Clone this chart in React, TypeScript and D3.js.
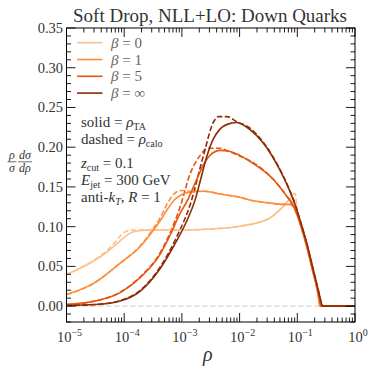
import React, { useRef, useEffect } from "react";
import * as d3 from "d3";

const title = "Soft Drop, NLL+LO: Down Quarks";
const betaLabels = ["0", "1", "5", "∞"];
const betaColors = ["#fdc08b", "#fd8d3c", "#e6550d", "#8c2d04"];

const xTickExps = [-5, -4, -3, -2, -1, 0];
const yTickValues = [0, 0.05, 0.1, 0.15, 0.2, 0.25, 0.3, 0.35];
const yTickLabels = ["0.00", "0.05", "0.10", "0.15", "0.20", "0.25", "0.30", "0.35"];

// points are [log10(rho), value]
const beta0Solid = [
  [-5, 0.04], [-4.75, 0.048], [-4.5, 0.058], [-4.3, 0.068], [-4.15, 0.077], [-4.0, 0.0865],
  [-3.9, 0.0915], [-3.8, 0.0942], [-3.6, 0.0956], [-3.0, 0.0958], [-2.5, 0.097], [-2.0, 0.1005],
  [-1.5, 0.11], [-1.25, 0.125], [-1.12, 0.134], [-1.08, 0.131], [-1.0, 0.114], [-0.952, 0.103],
  [-0.836, 0.074], [-0.721, 0.04], [-0.663, 0.023], [-0.63, 0.01], [-0.61, 0], [0, 0],
];
const beta0Dashed = [
  [-5, 0.04], [-4.75, 0.0485], [-4.5, 0.059], [-4.3, 0.07], [-4.15, 0.081], [-4.04, 0.0905],
  [-3.95, 0.0945], [-3.85, 0.0958], [-3.6, 0.0958], [-3.0, 0.0958], [-2.5, 0.097], [-2.0, 0.1005],
  [-1.5, 0.11], [-1.25, 0.125], [-1.12, 0.136], [-1.04, 0.142], [-1.0, 0.12], [-0.952, 0.104],
  [-0.836, 0.075], [-0.721, 0.041], [-0.663, 0.024], [-0.63, 0.01], [-0.605, 0], [0, 0],
];
const beta1Solid = [
  [-5, 0.0145], [-4.53, 0.0286], [-4.07, 0.054], [-3.72, 0.075], [-3.49, 0.096], [-3.37, 0.108],
  [-3.26, 0.121], [-3.14, 0.133], [-3.0, 0.1405], [-2.855, 0.1435], [-2.6, 0.1445], [-2.34, 0.141],
  [-2.0, 0.137], [-1.76, 0.1326], [-1.5, 0.13], [-1.24, 0.128], [-1.12, 0.128], [-1.067, 0.125],
  [-0.952, 0.104], [-0.836, 0.075], [-0.721, 0.041], [-0.663, 0.024], [-0.63, 0.01], [-0.605, 0], [0, 0],
];
const beta1Dashed = [
  [-5, 0.0145], [-4.53, 0.0286], [-4.07, 0.054], [-3.72, 0.076], [-3.49, 0.098], [-3.37, 0.112],
  [-3.26, 0.128], [-3.14, 0.141], [-3.0, 0.1455], [-2.855, 0.1445], [-2.6, 0.1445], [-2.34, 0.141],
  [-2.0, 0.137], [-1.76, 0.1326], [-1.5, 0.13], [-1.24, 0.128], [-1.12, 0.128], [-1.067, 0.125],
  [-0.952, 0.104], [-0.836, 0.075], [-0.721, 0.041], [-0.663, 0.024], [-0.63, 0.01], [-0.605, 0], [0, 0],
];
const beta5Solid = [
  [-5, 0.002], [-4.53, 0.006], [-4.07, 0.017], [-3.72, 0.036], [-3.37, 0.066], [-3.2, 0.09],
  [-3.03, 0.117], [-2.91, 0.132], [-2.74, 0.16], [-2.625, 0.178], [-2.51, 0.19], [-2.336, 0.196],
  [-2.16, 0.1945], [-1.82, 0.182], [-1.41, 0.159], [-1.2, 0.14], [-1.067, 0.126], [-0.952, 0.105],
  [-0.836, 0.076], [-0.721, 0.042], [-0.663, 0.025], [-0.62, 0.01], [-0.595, 0], [0, 0],
];
const beta5Dashed = [
  [-5, 0.002], [-4.53, 0.006], [-4.07, 0.0175], [-3.72, 0.037], [-3.37, 0.068], [-3.2, 0.093],
  [-3.03, 0.125], [-2.855, 0.167], [-2.68, 0.19], [-2.566, 0.1986], [-2.336, 0.1986], [-2.22, 0.1955],
  [-2.0, 0.189], [-1.82, 0.183], [-1.41, 0.159], [-1.2, 0.14], [-1.067, 0.126], [-0.952, 0.105],
  [-0.836, 0.076], [-0.721, 0.042], [-0.663, 0.025], [-0.62, 0.01], [-0.595, 0], [0, 0],
];
const betaInfSolid = [
  [-5, 0.0008], [-4.5, 0.002], [-4.07, 0.0065], [-3.72, 0.019], [-3.37, 0.048], [-3.085, 0.083],
  [-2.91, 0.108], [-2.77, 0.134], [-2.68, 0.158], [-2.566, 0.189], [-2.45, 0.211], [-2.336, 0.223],
  [-2.16, 0.23], [-2.05, 0.231], [-1.82, 0.222], [-1.587, 0.205], [-1.3, 0.171], [-1.15, 0.148],
  [-1.067, 0.1335], [-0.952, 0.108], [-0.836, 0.079], [-0.721, 0.045], [-0.663, 0.028], [-0.62, 0.015],
  [-0.58, 0.003], [-0.565, 0], [0, 0],
];
const betaInfDashed = [
  [-5, 0.0008], [-4.5, 0.002], [-4.07, 0.007], [-3.72, 0.02], [-3.37, 0.05], [-3.085, 0.088],
  [-2.855, 0.128], [-2.625, 0.19], [-2.45, 0.232], [-2.365, 0.2385], [-2.22, 0.2385], [-2.05, 0.232],
  [-1.82, 0.224], [-1.587, 0.206], [-1.3, 0.172], [-1.15, 0.149], [-1.067, 0.134], [-0.952, 0.108],
  [-0.836, 0.079], [-0.721, 0.045], [-0.663, 0.028], [-0.62, 0.015], [-0.58, 0.003], [-0.565, 0], [0, 0],
];

const solidSeries = [beta0Solid, beta1Solid, beta5Solid, betaInfSolid];
const dashedSeries = [beta0Dashed, beta1Dashed, beta5Dashed, betaInfDashed];

const W = 374, H = 374;
const margin = { top: 28, right: 19, bottom: 52, left: 66.5 };
const serif = "'Liberation Serif', 'DejaVu Serif', serif";

const Chart = () => {
  const svgRef = useRef<SVGSVGElement>(null);

  useEffect(() => {
    const svg = d3.select(svgRef.current);
    svg.selectAll("*").remove();

    const x = d3.scaleLog().domain([1e-5, 1]).range([margin.left, W - margin.right]);
    const y = d3.scaleLinear().domain([-0.02, 0.35]).range([H - margin.bottom, margin.top]);
    const [x0, x1] = x.range();
    const [yb, yt] = y.range();

    // zero reference line
    svg.append("line")
      .attr("x1", x0).attr("x2", x1).attr("y1", y(0)).attr("y2", y(0))
      .attr("stroke", "#cccccc").attr("stroke-width", 1).attr("stroke-dasharray", "5,3");

    const line = d3.line<number[]>()
      .x(d => x(Math.pow(10, d[0])))
      .y(d => y(d[1]))
      .curve(d3.curveMonotoneX);

    dashedSeries.forEach((s, i) => {
      svg.append("path").attr("d", line(s)).attr("fill", "none")
        .attr("stroke", betaColors[i]).attr("stroke-width", 1.6)
        .attr("stroke-dasharray", "5.5,2.4");
    });
    solidSeries.forEach((s, i) => {
      svg.append("path").attr("d", line(s)).attr("fill", "none")
        .attr("stroke", betaColors[i]).attr("stroke-width", 1.6);
    });

    // ticks, pointing inward on all four sides
    const major = 9, minor = 4.5;
    const ticks = svg.append("g").attr("stroke", "#000").attr("stroke-width", 0.9);
    const xMinor = x.ticks().filter(t => xTickExps.every(e => Math.abs(Math.log10(t) - e) > 1e-6));
    const xMajor = xTickExps.map(e => Math.pow(10, e));
    const yMinor = d3.range(-2, 36).map(v => v / 100).filter(v => Math.round(v * 100) % 5 !== 0);
    const vTick = (t: number, len: number) => {
      ticks.append("line").attr("x1", x(t)).attr("x2", x(t)).attr("y1", yb).attr("y2", yb - len);
      ticks.append("line").attr("x1", x(t)).attr("x2", x(t)).attr("y1", yt).attr("y2", yt + len);
    };
    const hTick = (t: number, len: number) => {
      ticks.append("line").attr("x1", x0).attr("x2", x0 + len).attr("y1", y(t)).attr("y2", y(t));
      ticks.append("line").attr("x1", x1).attr("x2", x1 - len).attr("y1", y(t)).attr("y2", y(t));
    };
    xMajor.forEach(t => vTick(t, major));
    xMinor.forEach(t => vTick(t, minor));
    yTickValues.forEach(t => hTick(t, major));
    yMinor.forEach(t => hTick(t, minor));

    svg.append("rect").attr("x", x0).attr("y", yt).attr("width", x1 - x0).attr("height", yb - yt)
      .attr("fill", "none").attr("stroke", "#000").attr("stroke-width", 1);

    // tick labels
    yTickValues.forEach((t, i) => {
      svg.append("text").attr("x", x0 - 3.5).attr("y", y(t) + 5)
        .attr("text-anchor", "end").attr("font-family", serif).attr("font-size", 14.5)
        .attr("fill", "#333").text(yTickLabels[i]);
    });
    xTickExps.forEach(e => {
      const t = svg.append("text").attr("x", x(Math.pow(10, e)) + 3).attr("y", yb + 20)
        .attr("text-anchor", "middle").attr("font-family", serif).attr("font-size", 14.5).attr("fill", "#333");
      t.append("tspan").text("10");
      t.append("tspan").attr("dy", -6).attr("font-size", 10).text(e < 0 ? `−${-e}` : `${e}`);
    });

    // axis labels
    svg.append("text").attr("x", (x0 + x1) / 2 - 3).attr("y", H - 13)
      .attr("text-anchor", "middle").attr("font-family", serif).attr("font-style", "italic")
      .attr("font-size", 20).attr("fill", "#333").text("ρ");

    const yl = svg.append("g").attr("font-family", serif).attr("font-style", "italic")
      .attr("font-size", 12).attr("fill", "#333").attr("text-anchor", "middle");
    yl.append("text").attr("x", 12).attr("y", 158.5).text("ρ");
    yl.append("text").attr("x", 12).attr("y", 171.5).text("σ");
    yl.append("text").attr("x", 25).attr("y", 158.5).text("dσ");
    yl.append("text").attr("x", 25).attr("y", 171.5).text("dρ");
    yl.append("line").attr("x1", 7.5).attr("x2", 16.5).attr("y1", 161.8).attr("y2", 161.8)
      .attr("stroke", "#333").attr("stroke-width", 0.7);
    yl.append("line").attr("x1", 18).attr("x2", 32).attr("y1", 161.8).attr("y2", 161.8)
      .attr("stroke", "#333").attr("stroke-width", 0.7);

    // title
    svg.append("text").attr("x", 210).attr("y", 22).attr("text-anchor", "middle")
      .attr("font-family", serif).attr("font-size", 18).attr("fill", "#333")
      .attr("textLength", 274).attr("lengthAdjust", "spacingAndGlyphs").text(title);

    // legend
    betaLabels.forEach((b, i) => {
      const ly = 42.7 + i * 16.8;
      svg.append("line").attr("x1", 77).attr("x2", 102.5).attr("y1", ly).attr("y2", ly)
        .attr("stroke", betaColors[i]).attr("stroke-width", 1.6);
      const t = svg.append("text").attr("x", 111).attr("y", ly + 5)
        .attr("font-family", serif).attr("font-size", 15).attr("fill", "#666");
      t.append("tspan").attr("font-style", "italic").text("β");
      t.append("tspan").text(` = ${b}`);
    });

    // annotations
    const ann = svg.append("g").attr("font-family", serif).attr("font-size", 15).attr("fill", "#333");
    const a1 = ann.append("text").attr("x", 81).attr("y", 127);
    a1.append("tspan").text("solid = ");
    a1.append("tspan").attr("font-style", "italic").text("ρ");
    a1.append("tspan").attr("dy", 3).attr("font-size", 10).text("TA");
    const a2 = ann.append("text").attr("x", 81).attr("y", 144);
    a2.append("tspan").text("dashed = ");
    a2.append("tspan").attr("font-style", "italic").text("ρ");
    a2.append("tspan").attr("dy", 3).attr("font-size", 10).text("calo");
    const a3 = ann.append("text").attr("x", 81).attr("y", 168);
    a3.append("tspan").attr("font-style", "italic").text("z");
    a3.append("tspan").attr("dy", 3).attr("font-size", 10).text("cut");
    a3.append("tspan").attr("dy", -3).text(" = 0.1");
    const a4 = ann.append("text").attr("x", 81).attr("y", 185);
    a4.append("tspan").attr("font-style", "italic").text("E");
    a4.append("tspan").attr("dy", 3).attr("font-size", 10).text("jet");
    a4.append("tspan").attr("dy", -3).text(" = 300 GeV");
    const a5 = ann.append("text").attr("x", 81).attr("y", 202);
    a5.append("tspan").text("anti-");
    a5.append("tspan").attr("font-style", "italic").text("k");
    a5.append("tspan").attr("dy", 3).attr("font-size", 10).attr("font-style", "italic").text("T");
    a5.append("tspan").attr("dy", -3).text(", ");
    a5.append("tspan").attr("font-style", "italic").text("R");
    a5.append("tspan").text(" = 1");
  }, []);

  return (
    <svg ref={svgRef} width={W} height={H}
      style={{ position: "absolute", left: 0, top: 0, background: "#fff" }} />
  );
};

export default function App() {
  return <Chart />;
}
